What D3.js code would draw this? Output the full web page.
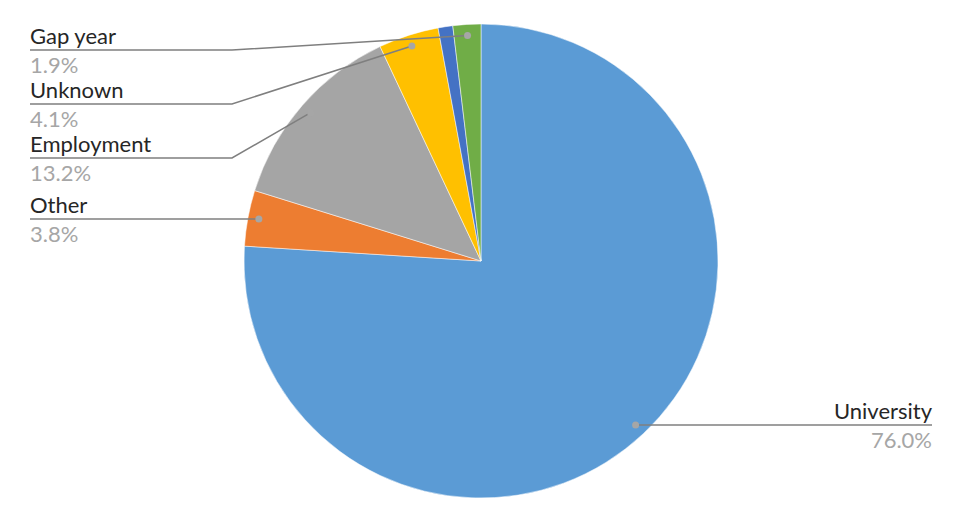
<!DOCTYPE html>
<html><head><meta charset="utf-8">
<script src="https://cdn.jsdelivr.net/npm/d3@7/dist/d3.min.js"></script>
<style>body{margin:0;background:#fff;} svg{display:block;font-family:Lato, "Open Sans", sans-serif;}</style>
</head><body><svg id="c" width="962" height="518"></svg>
<script>
const categories = ["University", "Other", "Employment", "Unknown", "Unlabeled", "Gap year"];
const values = [76.0, 3.8, 13.2, 4.1, 1.0, 1.9];
const pctLabels = ["76.0%", "3.8%", "13.2%", "4.1%", "", "1.9%"];
const colors = ["#5B9BD5", "#ED7D31", "#A5A5A5", "#FFC000", "#4472C4", "#70AD47"];

const svg = d3.select("#c");
const cx = 481, cy = 261, r = 237;
const g = svg.append("g").attr("transform", `translate(${cx},${cy})`);
const pie = d3.pie().sort(null).value(d => d.v);
const data = categories.map((c, i) => ({c, v: values[i], p: pctLabels[i], col: colors[i]}));
const arcs = pie(data);
const arc = d3.arc().innerRadius(0).outerRadius(r);
g.selectAll("path").data(arcs).join("path")
  .attr("d", arc).attr("fill", d => d.data.col)
  .attr("stroke", "#fff").attr("stroke-width", 0.5);

// label layout (text anchor point, elbow) in page coords
const layout = {
  "Gap year":   {x: 30, y: 50, elbow: 232, anchor: "start"},
  "Unknown":    {x: 30, y: 104, elbow: 232, anchor: "start"},
  "Employment": {x: 30, y: 158, elbow: 232, anchor: "start"},
  "Other":      {x: 30, y: 219, elbow: null, anchor: "start"},
  "University": {x: 932, y: 425, elbow: null, anchor: "end"}
};
const dotR = r * 0.953;
arcs.forEach(a => {
  const L = layout[a.data.c];
  if (!L) return;
  const mid = (a.startAngle + a.endAngle) / 2;
  const dx = cx + Math.sin(mid) * dotR, dy = cy - Math.cos(mid) * dotR;
  const dotY = L.elbow ? dy : L.y;
  let pts;
  if (L.anchor === "start") {
    pts = L.elbow ? [[L.x, L.y], [L.elbow, L.y], [dx, dy]] : [[L.x, L.y], [dx, L.y]];
  } else {
    pts = [[dx, L.y], [L.x, L.y]];
  }
  svg.append("path").attr("d", d3.line()(pts)).attr("fill", "none")
    .attr("stroke", "#7F7F7F").attr("stroke-width", 1.5);
  svg.append("circle").attr("cx", dx).attr("cy", dotY)
    .attr("r", 3.5).attr("fill", "#A6A6A6");
  svg.append("text").attr("x", L.x).attr("y", L.y - 6.5).attr("text-anchor", L.anchor)
    .attr("font-size", 22).attr("fill", "#262626").text(a.data.c);
  svg.append("text").attr("x", L.x).attr("y", L.y + 22.5).attr("text-anchor", L.anchor)
    .attr("font-size", 22).attr("fill", "#A6A6A6").text(a.data.p);
});
</script></body></html>
